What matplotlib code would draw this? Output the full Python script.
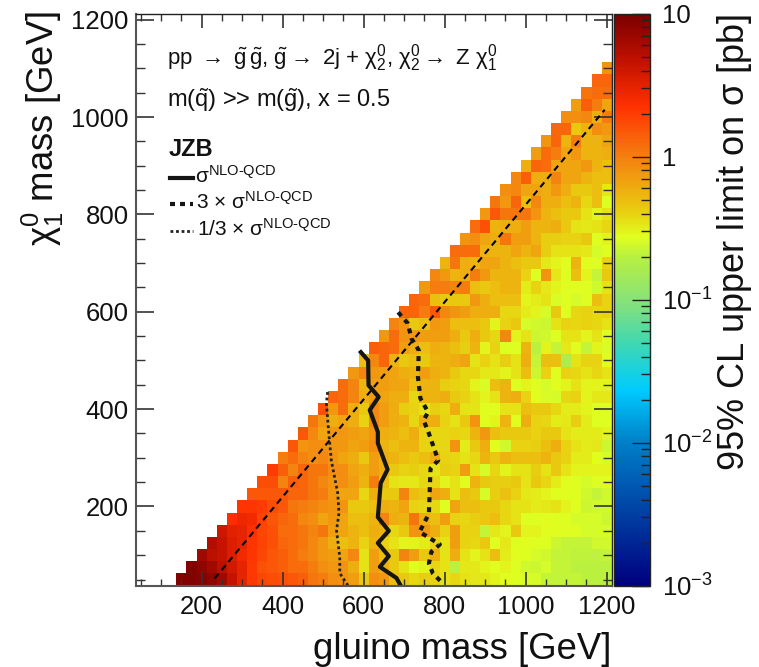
import matplotlib

matplotlib.use("Agg")
import numpy as np
import matplotlib.pyplot as plt
from matplotlib.colors import LinearSegmentedColormap, LogNorm
from matplotlib.ticker import LogLocator, MultipleLocator, NullFormatter

plt.rcParams["font.family"] = ["Liberation Sans", "DejaVu Sans"]
plt.rcParams["mathtext.fontset"] = "custom"
plt.rcParams["mathtext.rm"] = "Liberation Sans"
plt.rcParams["mathtext.it"] = "Liberation Sans"
plt.rcParams["mathtext.bf"] = "Liberation Sans:bold"
plt.rcParams["mathtext.default"] = "regular"

# upper limit in pb, one list per chi mass, every row runs up to gluino mass 1200
chi_masses = list(range(50, 1101, 25))
limit_rows = [
    [9, 9, 8.5, 8, 6.5, 4.5, 3, 2.1, 1.8, 1.7, 1.6, 1.5, 1.4, 1.1, 1, .85, .8, .7, .45,
     .85, .75, .5, .45, .38, .42, .4, .35, .38, .35, .33, .33, .3, .28, .27, .26, .25, .22, .22, .22, .22, .2, .2, .2],
    [9, 8, 6.5, 5, 3.8, 3, 2.1, 1.6, 1.5, 1.4, 1.2, 1.2, 1, .85, .75, .8, .6, .35,
     .7, .6, .45, .35, .28, .3, .38, .35, .2, .33, .33, .3, .28, .3, .27, .24, .23, .25, .22, .22, .2, .2, .2, .2],
    [6.5, 5, 4.5, 3.5, 2.6, 2.2, 1.8, 1.5, 1.4, 1.2, 1, .9, .75, .7, .65, .9, .35,
     .7, .5, .45, .95, .7, .45, .6, .35, .6, .35, .3, .35, .5, .32, .28, .27, .25, .24, .22, .22, .21, .21, .21, .22],
    [5.5, 4.5, 3.5, 3, 2.2, 1.9, 1.6, 1.3, 1.2, 1.1, .9, .75, .6, .5, .55, .4,
     .55, .4, .35, .3, .3, .32, .4, .35, .7, .4, .38, .45, .28, .33, .27, .28, .27, .27, .23, .22, .22, .22, .24, .24],
    [4, 3.2, 3, 2.3, 1.8, 1.6, 1.2, 1.2, 1.1, .95, 1.1, .7, .65, .55, .5,
     .6, .55, .38, .45, .8, .75, .6, .4, .7, .4, .4, .22, .33, .3, .45, .3, .3, .28, .28, .27, .27, .25, .25, .25],
    [2.3, 2.8, 2.6, 1.9, 1.5, 1.3, 1.2, .9, .85, .65, .75, .65, .5, .5,
     .55, .95, .6, .55, 1.1, .6, .5, .7, .4, .38, .42, .45, .5, .38, .35, .27, .27, .28, .27, .27, .25, .25, .25, .23],
    [2.2, 2.2, 2, 1.7, 1.5, 1.1, 1, .95, .85, .8, .8, .45, .45,
     .5, .6, .55, .65, .4, .38, .38, .27, .65, .5, .5, .45, .45, .38, .35, .35, .32, .33, .35, .3, .27, .23, .24, .24],
    [1.5, 1.5, 1.5, 1.5, 1.3, 1.3, 1.1, 1, .75, .65, .65, .38,
     .6, .45, .45, .95, .5, .45, .65, .6, .35, .5, .45, .25, .42, .48, .4, .33, .32, .3, .28, .28, .27, .24, .22, .24],
    [1.7, 1.7, .95, 1.4, 1.3, 1.1, .9, .8, .85, .7, .55,
     1, .5, .35, .33, .33, .38, .38, .3, .35, .28, .55, .45, .42, .42, .45, .35, .45, .38, .32, .28, .27, .25, .27, .28],
    [2, 1.4, .95, 1.3, 1.1, 1.1, .85, .85, .65, .6,
     .7, .6, .45, .4, .42, .38, .35, .42, .4, .7, .35, .25, .38, .3, .35, .35, .42, .35, .45, .35, .3, .3, .3, .3],
    [1, 1.2, .95, .85, .9, .8, .65, .6, .45,
     .7, .6, .55, .5, .45, .5, .6, .4, .38, .35, .38, .55, .45, .55, .5, .5, .5, .55, .45, .4, .32, .32, .28, .25],
    [1.5, .8, .85, .85, .75, .75, .65, .7,
     .85, .55, .5, .55, .55, .4, .38, .38, .8, .32, .45, .6, .28, .24, .4, .4, .42, .5, .6, .4, .35, .32, .33, .23],
    [1.5, .9, .65, .75, .75, .7, .65,
     .8, .6, .55, .5, .6, .4, .38, .38, .4, .38, .55, .75, .5, .45, .45, .45, .4, .45, .45, .35, .32, .32, .32, .3],
    [1.1, .75, .6, .65, .6, .4,
     .9, .7, .6, .55, .38, .6, .6, .4, .35, .45, .8, .28, .3, .55, .28, .6, .4, .38, .32, .33, .42, .32, .27, .27],
    [1.6, .75, 1.2, .6, .45,
     .9, .7, .6, .42, .4, .35, .42, .38, .6, .35, .35, .28, .28, .35, .35, .5, .45, .45, .38, .32, .32, .3, .27, .27],
    [1.3, 1.2, .95, .6,
     .7, .65, .6, .6, .38, .55, .55, .6, .45, .4, .35, .3, .35, .55, .6, .4, .28, .26, .25, .38, .4, .3, .33, .33],
    [1.2, .95, .55,
     .7, .7, .65, .65, .5, .55, .55, .42, .4, .38, .3, .26, .5, .55, .27, .3, .27, .25, .28, .3, .35, .3, .3, .3],
    [.75, .95,
     .75, .7, .65, .6, .55, .7, .6, .55, .45, .38, .38, .33, .33, .3, .35, .5, .23, .4, .28, .4, .38, .35, .38, .35],
    [.5,
     .9, 1.3, .55, .45, .5, .45, .55, .55, .6, .65, .35, .4, .35, .42, .35, .6, .22, .5, .5, .17, .35, .4, .4, .28],
    [1.4, 1.3, 1.2, .7, .6, .5, .6, .55, .5, .42, .55, .3, .4, .27, .27, .55, .2, .3, .22, .33, .28, .22, .3, .26],
    [.75, 1.2, .8, .75, .7, .7, .7, .6, .45, .6, .45, .38, .9, .3, .35, .23, .24, .27, .35, .35, .3, .35, .28],
    [.95, .8, .45, .5, .75, .7, .5, .5, .5, .45, .3, .4, .45, .25, .24, .23, .35, .4, .38, .4, .38, .35],
    [1.3, 1.3, 1, 1.5, .9, .8, .7, .6, .6, .6, .38, .38, .32, .3, .25, .45, .27, .38, .4, .38, .4],
    [1.3, 1.2, .5, .45, .45, .45, .75, .6, .5, .5, .5, .3, .32, .35, .26, .27, .25, .27, .5, .4],
    [.75, 1, 1, .95, 1, .5, .45, .5, .55, .55, .32, .4, .33, .3, .27, .27, .27, .24, .35],
    [.9, .75, .55, .6, 1, .75, .55, .55, .55, .4, .27, .8, .33, .27, .5, .3, .22, .45],
    [.55, 1.1, .6, .55, .65, .65, .55, .5, .45, .45, .33, .3, .28, .55, .28, .27, .4],
    [1.2, 1.2, 1.2, .55, .55, .55, .65, .55, .65, .42, .35, .35, .35, .33, .25, .27],
    [.8, .85, .65, .6, 1.1, .7, .7, .55, .42, .42, .4, .4, .45, .27, .3],
    [1.2, 1.6, .55, .6, .6, .7, .55, .55, .6, .45, .35, .33, .35, .38],
    [.75, 1.5, 1.1, 1.1, 1.1, .8, .55, .5, .45, .45, .35, .3, .35],
    [1.1, .75, 1.3, .5, .9, .6, .6, .5, .55, .38, .5, .27],
    [.85, .9, .65, .65, .6, .75, .6, .45, .45, .5, .33],
    [.9, 1.4, .6, .6, .95, .65, .65, .55, .5, .5],
    [.6, 1.3, 1.2, .65, .65, .65, .75, .55, .5],
    [.7, 1.2, 1, .65, .75, .55, .55, .6],
    [.8, 1.3, .55, 1, .55, .55, .65],
    [1.25, 1.3, .45, .55, .85, .75],
    [.85, .85, .9, .6, 1],
    [.7, 1.4, 1, .65],
    [1.15, 1.2, 1.2],
    [1.3, 1.3],
    [.8],
]

# exclusion contours
nlo_gluino = [593, 611, 612, 637, 615, 635, 635, 659, 642, 635, 662, 635, 662, 640, 681, 691]
nlo_chi = [517, 500, 449, 425, 398, 353, 330, 276, 248, 178, 150, 125, 98, 76, 53, 38]
nlo3_gluino = [685, 709, 718, 736, 734, 740, 759, 748, 761, 784, 765, 761, 738, 788, 767, 761, 771, 796]
nlo3_chi = [599, 576, 545, 521, 466, 422, 394, 377, 350, 295, 278, 185, 148, 122, 107, 83, 62, 42]
nlo13_gluino = [511, 508, 514, 520, 536, 539, 533, 541, 541, 561]
nlo13_chi = [435, 412, 350, 295, 227, 186, 151, 96, 63, 38]
diagonal_gluino = [232, 1195]
diagonal_chi = [52, 1015]

fig_w, fig_h = 759, 667
fig = plt.figure(figsize=(fig_w / 100, fig_h / 100), dpi=100)
ax = fig.add_axes([135.8 / fig_w, 1 - 585.6 / fig_h, 476 / fig_w, 572 / fig_h])
cax = fig.add_axes([614 / fig_w, 1 - 585.6 / fig_h, 36 / fig_w, 572 / fig_h])

anchors = [
    (0.0, "#00007f"), (0.25, "#0080c8"), (0.3425, "#00ccff"), (0.425, "#40d8b0"), (0.4875, "#80e080"),
    (0.575, "#b8f040"), (0.61, "#e0ff20"), (0.6525, "#e8d010"), (0.75, "#f58010"), (0.84, "#ff3000"),
    (0.92, "#c01000"), (1.0, "#7a0000"),
]
cmap = LinearSegmentedColormap.from_list("limit", anchors, N=256)

edges = np.arange(37.5, 1213, 25)
z = np.full((len(edges) - 1, len(edges) - 1), np.nan)
for i, row in enumerate(limit_rows):
    z[i, len(edges) - 1 - len(row):] = row
mesh = ax.pcolormesh(edges, edges, np.ma.masked_invalid(z), cmap=cmap, norm=LogNorm(1e-3, 10), rasterized=True)

ax.plot(diagonal_gluino, diagonal_chi, color="k", lw=1.5, ls=(0, (3, 2.2)))
ax.plot(nlo_gluino, nlo_chi, color="#151515", lw=3)
ax.plot(nlo3_gluino, nlo3_chi, color="#151515", lw=3, ls=(0, (1.2, 1.2)))
ax.plot(nlo13_gluino, nlo13_chi, color="#222222", lw=2, ls=(0, (1, 1)))

ax.set_xlim(37.5, 1212.5)
ax.set_ylim(37.5, 1212.5)
ax.xaxis.set_major_locator(MultipleLocator(200))
ax.xaxis.set_minor_locator(MultipleLocator(50))
ax.yaxis.set_major_locator(MultipleLocator(200))
ax.yaxis.set_minor_locator(MultipleLocator(50))
ax.tick_params(axis="x", which="major", direction="in", top=True, length=10, width=1.2, color="#333333",
               labelsize=18.5, pad=7, labelcolor="#111111")
ax.tick_params(axis="x", which="minor", direction="in", top=True, length=5, width=1, color="#333333")
ax.tick_params(axis="y", which="major", direction="in", right=True, length=13, width=1.2, color="#333333",
               labelsize=18.5, pad=5, labelcolor="#111111")
ax.tick_params(axis="y", which="minor", direction="in", right=True, length=6.5, width=1, color="#333333")
for side, spine in ax.spines.items():
    spine.set_linewidth(1.5 if side in ("left", "bottom") else 1)
    spine.set_color("#555555" if side in ("left", "bottom") else "#222222")
ax.set_xlabel("gluino mass [GeV]", fontsize=26.3, x=1.0, ha="right", labelpad=9, color="#111111")
ax.set_ylabel(r"$\chi^0_1$ mass [GeV]", fontsize=26.3, y=1.005, ha="right", labelpad=4, color="#111111")

cb = fig.colorbar(mesh, cax=cax)
cb.solids.set_rasterized(True)
cax.yaxis.set_major_locator(LogLocator(base=10))
cax.yaxis.set_minor_locator(LogLocator(base=10, subs=range(2, 10)))
cax.yaxis.set_minor_formatter(NullFormatter())
cax.tick_params(which="major", direction="in", length=13, width=1, color="#222222", labelsize=18.5, pad=9, labelcolor="#111111")
cax.tick_params(which="minor", direction="in", length=6.5, width=1, color="#222222")
cax.set_yticks([1e-3, 1e-2, 1e-1, 1, 10], ["$10^{-3}$", "$10^{-2}$", "$10^{-1}$", "1", "10"])
cb.outline.set_linewidth(1)
cb.outline.set_edgecolor("#222222")
cb.set_label(r"95% CL upper limit on $\sigma$ [pb]", fontsize=26, y=1.0, ha="right", labelpad=1, color="#111111")

ax.text(167 / fig_w, 1 - 58 / fig_h,
        r"pp $\rightarrow$ $\tilde{g}\,\tilde{g}$, $\tilde{g}\rightarrow$ 2j + $\chi^0_2$, $\chi^0_2\rightarrow$ Z $\chi^0_1$",
        transform=fig.transFigure, fontsize=16, va="center", color="#111111")
ax.text(167 / fig_w, 1 - 100 / fig_h, r"m($\tilde{q}$) >> m($\tilde{g}$), x = 0.5",
        transform=fig.transFigure, fontsize=17, va="center", color="#111111")
ax.text(169 / fig_w, 1 - 150 / fig_h, "JZB", transform=fig.transFigure, fontsize=17, fontweight="bold", va="center", color="#111111")

key_x = [170 / fig_w, 193 / fig_w]
ax.plot(key_x, [1 - 178 / fig_h] * 2, transform=fig.transFigure, color="#151515", lw=3, clip_on=False)
ax.plot(key_x, [1 - 204 / fig_h] * 2, transform=fig.transFigure, color="#151515", lw=3, ls=(0, (1.2, 1.2)), clip_on=False)
ax.plot(key_x, [1 - 231 / fig_h] * 2, transform=fig.transFigure, color="#222222", lw=2, ls=(0, (1, 1)), clip_on=False)
ax.text(195 / fig_w, 1 - 176 / fig_h, "$\\sigma^{NLO\u2010QCD}$", transform=fig.transFigure, fontsize=15, va="center", color="#111111")
ax.text(196 / fig_w, 1 - 202 / fig_h, "3 $\\times$ $\\sigma^{NLO\u2010QCD}$", transform=fig.transFigure, fontsize=15, va="center", color="#111111")
ax.text(197 / fig_w, 1 - 229 / fig_h, "1/3 $\\times$ $\\sigma^{NLO\u2010QCD}$", transform=fig.transFigure, fontsize=15, va="center", color="#111111")

fig.savefig("out.png", dpi=100)
